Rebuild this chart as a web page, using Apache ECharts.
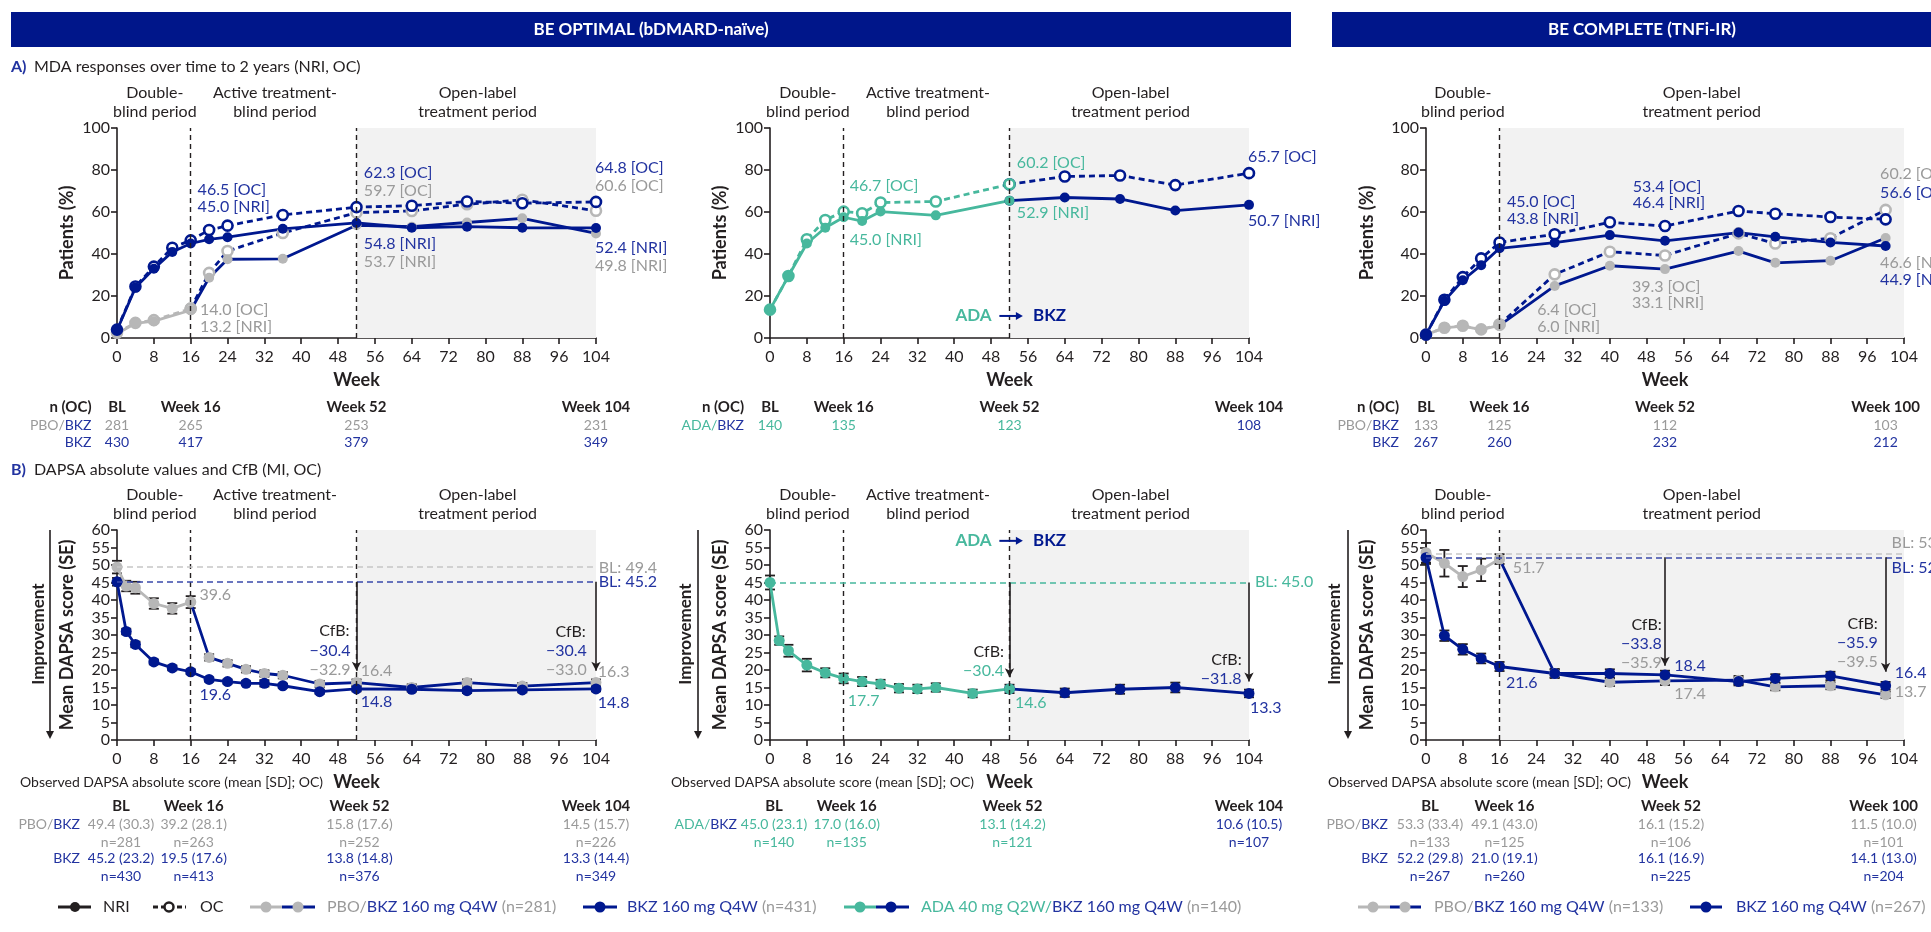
<!DOCTYPE html>
<html><head><meta charset="utf-8">
<script src="https://cdn.jsdelivr.net/npm/echarts@6/dist/echarts.min.js"></script>
<style>html,body{margin:0;padding:0;background:#fff}#c{width:1931px;height:932px}</style>
</head><body><div id="c"></div>
<script>
// ---------------- DATA ----------------
// A1: BE OPTIMAL MDA response (%)
const a1BkzWeeks = [0,4,8,12,16,20,24,36,52,64,76,88,104];
const a1BkzNri   = [3.7,24,33,41,45,47,48,52,54.8,52.5,53,52.5,52.4];
const a1BkzOc    = [4,24.5,34,43,46.5,51.4,53.5,58.6,62.3,63,65,64.2,64.8];
const a1PboWeeks = [0,4,8,16,20,24,36,52,64,76,88,104];
const a1PboNri   = [2,7,8,13.2,28.7,37.5,37.7,53.7,53,55,57,49.8];
const a1PboOc    = [2.5,7.2,8.5,14,31,41.4,50,59.7,60.5,63.7,65.8,60.6];
// A2: BE OPTIMAL ADA->BKZ MDA (%)
const a2Weeks = [0,4,8,12,16,20,24,36,52,64,76,88,104];
const a2Nri   = [13.5,29.5,45,52.5,57.5,55.7,60.2,58.4,65.4,66.9,66.2,60.7,63.4];
const a2Oc    = [13.5,29.5,47,56.2,60.2,59.4,64.5,65,73.2,76.9,77.4,72.8,78.5];
// A3: BE COMPLETE MDA (%)
const a3Weeks  = [0,4,8,12,16,28,40,52,68,76,88,100];
const a3BkzNri = [1.6,17.7,27.5,34.7,42.7,45.4,49,46.3,50.2,48.2,45.5,43.8];
const a3BkzOc  = [1.6,18.2,29,37.9,45.5,49.4,55.1,53.3,60.5,59.2,57.6,56.5];
const a3PboNri = [1.6,4.8,5.7,4,6,24.8,34.4,32.8,41.4,35.8,36.8,47.6];
const a3PboOc  = [1.6,4.9,5.8,4.1,6.4,30.3,41.1,39.3,49.8,45,47.5,61];
// B1: BE OPTIMAL DAPSA
const b1Weeks = [0,2,4,8,12,16,20,24,28,32,36,44,52,64,76,88,104];
const b1Bkz   = [45.2,31,27.3,22.3,20.6,19.5,17.3,16.7,16.2,16.2,15.5,13.8,14.6,14.5,14.1,14.3,14.6];
const b1BkzSe = [1.1,0.8,0.8,0.7,0.7,0.7,0.6,0.6,0.6,0.9,0.6,0.6,0.7,0.7,0.7,0.7,0.7];
const b1Pbo   = [49.4,44,43.5,39,37.6,39.4,23.6,21.9,20.2,19,18.5,16,16.4,15,16.4,15.4,16.4];
const b1PboSe = [1.8,1.5,1.7,1.5,1.5,1.7,0.9,0.9,0.9,0.9,0.9,0.9,0.9,0.9,0.9,0.9,0.9];
const b1Baseline = [49.4,45.2];
// B2: BE OPTIMAL ADA->BKZ DAPSA
const b2Weeks = [0,2,4,8,12,16,20,24,28,32,36,44,52,64,76,88,104];
const b2Ada   = [45,28.4,25.5,21.4,19.2,17.6,16.7,16,14.8,14.6,15,13.3,14.6,13.5,14.5,15,13.3];
const b2AdaSe = [2,1.2,1.7,1.8,1.3,1.4,1.3,1.2,1.2,1.2,1.2,1.1,1.2,1.2,1.3,1.4,1.1];
const b2Baseline = [45.0];
// B3: BE COMPLETE DAPSA
const b3Weeks = [0,4,8,12,16,28,40,52,68,76,88,100];
const b3Bkz   = [52.1,29.8,25.9,23.3,21,19,19,18.6,16.7,17.6,18.3,15.5];
const b3BkzSe = [1.8,1.5,1.5,1.4,1.3,1.1,1.2,1.2,1.1,1.2,1.2,1.1];
const b3Pbo   = [53.5,50.5,46.7,48.6,51.7,19,16.5,16.9,17.1,15.2,15.5,12.9];
const b3PboSe = [2.8,3.8,3,3.2,1.4,1.3,1.1,1.2,1.2,1,1,0.9];
const b3Baseline = [53.3,52.2];
// tables
const tblWeeksA = [0,16,52,104];
const tblWeeksC = [0,16,52,100];
const colHeadA = ['BL','Week 16','Week 52','Week 104'];
const colHeadC = ['BL','Week 16','Week 52','Week 100'];
const nA1Pbo = [281,265,253,231];
const nA1Bkz = [430,417,379,349];
const nA2Ada = [140,135,123,108];
const nA3Pbo = [133,125,112,103];
const nA3Bkz = [267,260,232,212];
const obsB1Pbo = ['49.4 (30.3)','39.2 (28.1)','15.8 (17.6)','14.5 (15.7)'];
const obsB1PboN = [281,263,252,226];
const obsB1Bkz = ['45.2 (23.2)','19.5 (17.6)','13.8 (14.8)','13.3 (14.4)'];
const obsB1BkzN = [430,413,376,349];
const obsB2Ada = ['45.0 (23.1)','17.0 (16.0)','13.1 (14.2)','10.6 (10.5)'];
const obsB2AdaN = [140,135,121,107];
const obsB3Pbo = ['53.3 (33.4)','49.1 (43.0)','16.1 (15.2)','11.5 (10.0)'];
const obsB3PboN = [133,125,106,101];
const obsB3Bkz = ['52.2 (29.8)','21.0 (19.1)','16.1 (16.9)','14.1 (13.0)'];
const obsB3BkzN = [267,260,225,204];
// callout texts
const callA1 = ['46.5 [OC]','45.0 [NRI]','14.0 [OC]','13.2 [NRI]','62.3 [OC]','59.7 [OC]','54.8 [NRI]','53.7 [NRI]','64.8 [OC]','60.6 [OC]','52.4 [NRI]','49.8 [NRI]'];
const callA2 = ['46.7 [OC]','45.0 [NRI]','60.2 [OC]','52.9 [NRI]','65.7 [OC]','50.7 [NRI]'];
const callA3 = ['45.0 [OC]','43.8 [NRI]','53.4 [OC]','46.4 [NRI]','6.4 [OC]','6.0 [NRI]','39.3 [OC]','33.1 [NRI]','60.2 [OC]','56.6 [OC]','46.6 [NRI]','44.9 [NRI]'];
const callB1 = ['BL: 49.4','BL: 45.2','39.6','19.6','CfB:','\u221230.4','\u221232.9','16.4','14.8','CfB:','\u221230.4','\u221233.0','16.3','14.8'];
const callB2 = ['BL: 45.0','CfB:','\u221230.4','17.7','14.6','CfB:','\u221231.8','13.3'];
const callB3 = ['BL: 53.3','BL: 52.2','51.7','21.6','CfB:','\u221233.8','\u221235.9','18.4','17.4','CfB:','\u221235.9','\u221239.5','16.4','13.7'];

// ---------------- STYLE / LAYOUT ----------------
const F = 'Lato, "Noto Sans", sans-serif';
const NAVY = '#00188f', BLUE_T = '#2233a0', GRAY = '#b7b7b7', GRAY_T = '#9a9a9a',
      TEAL = '#47b89d', BLACK = '#231f20', SHADE = '#f2f2f2';
const COL = {b: BLUE_T, g: GRAY_T, t: TEAL, k: BLACK};

const grids = [
  {left:117, top:128, width:479, height:210},
  {left:770, top:128, width:479, height:210},
  {left:1426, top:128, width:478, height:210},
  {left:117, top:530, width:479, height:210},
  {left:770, top:530, width:479, height:210},
  {left:1426, top:530, width:478, height:210}
];
const yNameGap = [41,41,50,41,41,50];

// callout positions (data space of each grid): [week, value, colour, align]
const posA1 = [[17.5,70.5,'b'],[17.5,62.4,'b'],[18,13.3,'g'],[18,5.2,'g'],[53.6,78.6,'b'],[53.6,70,'g'],[53.6,44.8,'b'],[53.6,36.2,'g'],[103.8,81,'b'],[103.8,72.4,'g'],[103.8,42.9,'b'],[103.8,34.3,'g']];
const posA2 = [[17.3,72.4,'t'],[17.3,46.7,'t'],[53.6,83.3,'t'],[53.6,59.5,'t'],[103.8,86.2,'b'],[103.8,55.7,'b']];
const posA3 = [[17.6,64.8,'b'],[17.6,56.7,'b'],[45,71.9,'b'],[45,64.3,'b'],[24.2,13.3,'g'],[24.2,5.2,'g'],[44.8,24.3,'g'],[44.8,16.7,'g'],[98.8,78.1,'g'],[98.8,69,'b'],[98.8,35.7,'g'],[98.8,27.6,'b']];
const posB1 = [[104.6,49.2,'g','l'],[104.6,45.1,'b','l'],[17.9,41.4,'g','l'],[17.9,12.9,'b','l'],[50.5,31.1,'k','r'],[50.7,25.4,'b','r'],[50.7,20,'g','r'],[52.9,19.7,'g','l'],[52.9,10.9,'b','l'],[101.8,30.9,'k','r'],[102,25.4,'b','r'],[102,20,'g','r'],[104.4,19.4,'g','l'],[104.4,10.6,'b','l']];
const posB2 = [[105.3,45.1,'t','l'],[50.8,25.1,'k','r'],[50.8,19.7,'t','r'],[16.9,11.1,'t','l'],[53.2,10.6,'t','l'],[102.4,22.9,'k','r'],[102.4,17.4,'b','r'],[104.2,9.1,'b','l']];
const posB3 = [[101.3,56.3,'g','l'],[101.3,49.1,'b','l'],[18.9,49.1,'g','l'],[17.4,16.3,'b','l'],[51.3,32.9,'k','r'],[51.3,27.4,'b','r'],[51.3,22,'g','r'],[54,21.1,'b','l'],[54,13.1,'g','l'],[98.3,33.1,'k','r'],[98.3,27.7,'b','r'],[98.3,22.3,'g','r'],[102,19.1,'b','l'],[102,13.7,'g','l']];

// ---------------- BUILD ----------------
const chart = echarts.init(document.getElementById('c'), null, {renderer:'canvas'});

const pts = (w, v) => w.map((x, i) => [x, v[i]]);

function lineS(g, w, v, lc, mc, dashed, hollow, size) {
  return {
    type:'line', xAxisIndex:g, yAxisIndex:g, z:3, silent:true, animation:false,
    data: pts(w, v), symbol:'circle', symbolSize: size || 10, showSymbol:true,
    lineStyle:{color:lc, width:2.8, type: dashed ? [6,4] : 'solid'},
    itemStyle: hollow ? {color:'#fff', borderColor:mc, borderWidth:2.6} : {color:mc, borderWidth:0},
    emphasis:{disabled:true}
  };
}
function splitS(g, w, v, at, lc1, mc1, lc2, mc2, dashed, hollow, size) {
  const k = w.indexOf(at);
  return [
    lineS(g, w.slice(k), v.slice(k), lc2, mc2, dashed, hollow, size),
    lineS(g, w.slice(0, k + 1), v.slice(0, k + 1), lc1, mc1, dashed, hollow, size)
  ];
}
function errS(g, w, v, se) {
  return {
    type:'custom', xAxisIndex:g, yAxisIndex:g, z:2, silent:true, animation:false,
    data: w.map((x, i) => [x, v[i], se[i]]),
    encode:{x:0, y:1},
    renderItem: function (params, api) {
      const x = api.value(0), m = api.value(1), s = api.value(2);
      const t = api.coord([x, m + s]), b = api.coord([x, m - s]);
      const hw = 5;
      const st = {stroke:BLACK, lineWidth:1.8};
      return {type:'group', children:[
        {type:'line', shape:{x1:t[0], y1:t[1], x2:b[0], y2:b[1]}, style:st},
        {type:'line', shape:{x1:t[0]-hw, y1:t[1], x2:t[0]+hw, y2:t[1]}, style:st},
        {type:'line', shape:{x1:b[0]-hw, y1:b[1], x2:b[0]+hw, y2:b[1]}, style:st}
      ]};
    }
  };
}
const vDash = w => ({xAxis:w, lineStyle:{color:BLACK, type:[5,4], width:1.4}});
const hDash = (y, c) => ({yAxis:y, lineStyle:{color:c, type:[6,4], width:1.6}});
const arrow = (w, y1, y2) => [
  {coord:[w, y1], symbol:'none', lineStyle:{color:BLACK, width:1.6, type:'solid'}},
  {coord:[w, y2], symbol:'arrow', symbolSize:[7,9], lineStyle:{color:BLACK, width:1.6, type:'solid'}}
];
function frameS(g, shadeFrom, lines) {
  return {
    type:'line', xAxisIndex:g, yAxisIndex:g, z:1, silent:true, animation:false,
    data:[[0,0]], showSymbol:false, lineStyle:{opacity:0},
    markArea:{silent:true, itemStyle:{color:SHADE}, data:[[{xAxis:shadeFrom},{xAxis:104}]]},
    markLine:{silent:true, animation:false, symbol:['none','none'], label:{show:false}, emphasis:{disabled:true}, data:lines}
  };
}

const xAxis = grids.map((_, g) => ({
  gridIndex:g, type:'value', min:0, max:104, interval:8,
  name:'Week', nameLocation:'middle', nameGap:33,
  nameTextStyle:{fontFamily:F, fontSize:18, fontWeight:'bold', color:BLACK},
  axisLine:{show:true, onZero:false, lineStyle:{color:BLACK, width:1.6}},
  axisTick:{show:true, length:6, lineStyle:{color:BLACK, width:1.6}},
  axisLabel:{fontFamily:F, fontSize:16, color:BLACK, margin:11},
  splitLine:{show:false}
}));
const yAxis = grids.map((_, g) => {
  const top = g < 3;
  return {
    gridIndex:g, type:'value', min:0, max: top ? 100 : 60, interval: top ? 20 : 5,
    name: top ? 'Patients (%)' : 'Mean DAPSA score (SE)', nameLocation:'middle', nameGap:yNameGap[g],
    nameTextStyle:{fontFamily:F, fontSize:18, fontWeight:'bold', color:BLACK},
    axisLine:{show:true, lineStyle:{color:BLACK, width:1.6}},
    axisTick:{show:true, length:6, lineStyle:{color:BLACK, width:1.6}},
    axisLabel:{fontFamily:F, fontSize:16, color:BLACK, margin:7},
    splitLine:{show:false}
  };
});

const series = [
  // A1
  frameS(0, 52, [vDash(16), vDash(52)]),
  ...splitS(0, a1PboWeeks, a1PboOc, 16, GRAY, GRAY, NAVY, GRAY, true, true),
  ...splitS(0, a1PboWeeks, a1PboNri, 16, GRAY, GRAY, NAVY, GRAY, false, false),
  lineS(0, a1BkzWeeks, a1BkzOc, NAVY, NAVY, true, true),
  lineS(0, a1BkzWeeks, a1BkzNri, NAVY, NAVY, false, false),
  // A2
  frameS(1, 52, [vDash(16), vDash(52)]),
  ...splitS(1, a2Weeks, a2Oc, 52, TEAL, TEAL, NAVY, NAVY, true, true),
  ...splitS(1, a2Weeks, a2Nri, 52, TEAL, TEAL, NAVY, NAVY, false, false),
  // A3
  frameS(2, 16, [vDash(16)]),
  ...splitS(2, a3Weeks, a3PboOc, 16, GRAY, GRAY, NAVY, GRAY, true, true),
  ...splitS(2, a3Weeks, a3PboNri, 16, GRAY, GRAY, NAVY, GRAY, false, false),
  lineS(2, a3Weeks, a3BkzOc, NAVY, NAVY, true, true),
  lineS(2, a3Weeks, a3BkzNri, NAVY, NAVY, false, false),
  // B1
  frameS(3, 52, [vDash(16), vDash(52), hDash(b1Baseline[0], '#c6c6c6'), hDash(b1Baseline[1], '#3a4aab'),
    arrow(52, b1Baseline[1], 19.8), arrow(104, b1Baseline[1], 19.8)]),
  errS(3, b1Weeks, b1Pbo, b1PboSe),
  errS(3, b1Weeks, b1Bkz, b1BkzSe),
  ...splitS(3, b1Weeks, b1Pbo, 16, GRAY, GRAY, NAVY, GRAY, false, false, 11),
  lineS(3, b1Weeks, b1Bkz, NAVY, NAVY, false, false, 11),
  // B2
  frameS(4, 52, [vDash(16), vDash(52), hDash(b2Baseline[0], TEAL),
    arrow(52, b2Baseline[0], 17.9), arrow(104, b2Baseline[0], 16.7)]),
  errS(4, b2Weeks, b2Ada, b2AdaSe),
  ...splitS(4, b2Weeks, b2Ada, 52, TEAL, TEAL, NAVY, NAVY, false, false, 11),
  // B3
  frameS(5, 16, [vDash(16), hDash(b3Baseline[0], '#c6c6c6'), hDash(b3Baseline[1], '#3a4aab'),
    arrow(52, b3Baseline[1], 21.2), arrow(100, b3Baseline[1], 19.5)]),
  errS(5, b3Weeks, b3Pbo, b3PboSe),
  errS(5, b3Weeks, b3Bkz, b3BkzSe),
  ...splitS(5, b3Weeks, b3Pbo, 16, GRAY, GRAY, NAVY, GRAY, false, false, 11),
  lineS(5, b3Weeks, b3Bkz, NAVY, NAVY, false, false, 11)
];

chart.setOption({
  animation:false,
  backgroundColor:'#fff',
  textStyle:{fontFamily:F},
  grid: grids.map(g => Object.assign({containLabel:false, outerBoundsMode:'none'}, g)),
  xAxis, yAxis, series
});

// ---------------- GRAPHIC ANNOTATIONS ----------------
const G = [];
const P = (g, x, y) => chart.convertToPixel({gridIndex:g}, [x, y]);
function txt(x, y, text, o) {
  G.push({type:'text', x:x, y:y, silent:true, z:10,
    style:Object.assign({text:text, fontFamily:F, fontSize:16, fill:BLACK, align:'left', verticalAlign:'middle'}, o || {})});
}
function rt(size, weight) {
  const mk = c => ({fill:c, fontSize:size, fontFamily:F, fontWeight:weight || 'normal'});
  return {g:mk(GRAY_T), b:mk(BLUE_T), t:mk(TEAL), k:mk(BLACK)};
}
function ln(x1, y1, x2, y2, c, w, dash) {
  G.push({type:'line', silent:true, z:10, shape:{x1, y1, x2, y2}, style:{stroke:c, lineWidth:w, lineDash:dash || null}});
}
function dot(cx, cy, r, fill, stroke) {
  G.push({type:'circle', silent:true, z:11, shape:{cx, cy, r}, style:{fill:fill, stroke:stroke || null, lineWidth:stroke ? 2.5 : 0}});
}

// header bars
G.push({type:'rect', silent:true, shape:{x:11, y:12, width:1280, height:35}, style:{fill:'#00168a'}});
G.push({type:'rect', silent:true, shape:{x:1332, y:12, width:620, height:35}, style:{fill:'#00168a'}});
txt(651, 30, 'BE OPTIMAL (bDMARD-na\u00efve)', {align:'center', fill:'#fff', fontWeight:'bold', fontSize:17});
txt(1642, 30, 'BE COMPLETE (TNFi-IR)', {align:'center', fill:'#fff', fontWeight:'bold', fontSize:17});

// section titles
txt(11, 67, 'A)', {fill:BLUE_T, fontWeight:'bold', fontSize:16});
txt(34, 67, 'MDA responses over time to 2 years (NRI, OC)', {fontSize:16});
txt(11, 470, 'B)', {fill:BLUE_T, fontWeight:'bold', fontSize:16});
txt(34, 470, 'DAPSA absolute values and CfB (MI, OC)', {fontSize:16});

// period labels
const periodsAB = [[8.2,'Double-\nblind period'],[34.3,'Active treatment-\nblind period'],[78.3,'Open-label\ntreatment period']];
const periodsC = [[8.0,'Double-\nblind period'],[60,'Open-label\ntreatment period']];
[0,1,2,3,4,5].forEach(g => {
  const list = (g % 3 === 2) ? periodsC : periodsAB;
  const yMid = g < 3 ? 102.5 : 504;
  list.forEach(p => txt(P(g, p[0], 0)[0], yMid, p[1], {align:'center', lineHeight:19, fontSize:16}));
});

// callouts
function callouts(g, texts, pos) {
  texts.forEach((t, i) => {
    const p = pos[i], xy = P(g, p[0], p[1]);
    txt(xy[0], xy[1], t, {fill:COL[p[2]], align: p[3] === 'r' ? 'right' : 'left', fontSize:16});
  });
}
callouts(0, callA1, posA1); callouts(1, callA2, posA2); callouts(2, callA3, posA3);
callouts(3, callB1, posB1); callouts(4, callB2, posB2); callouts(5, callB3, posB3);

// ADA -> BKZ markers
[[1, 10.5], [4, 56.9]].forEach(a => {
  const g = a[0], y = P(g, 0, a[1])[1];
  txt(P(g, 48.1, 0)[0], y, 'ADA', {align:'right', fill:TEAL, fontWeight:'bold', fontSize:17});
  const x1 = P(g, 49.8, 0)[0], x2 = P(g, 54.9, 0)[0];
  ln(x1, y, x2 - 4, y, NAVY, 2);
  G.push({type:'polygon', silent:true, z:10, shape:{points:[[x2, y], [x2 - 7, y - 4], [x2 - 7, y + 4]]}, style:{fill:NAVY}});
  txt(P(g, 57.1, 0)[0], y, 'BKZ', {align:'left', fill:NAVY, fontWeight:'bold', fontSize:17});
});

// Improvement arrows
[[50, 39], [698, 686], [1348, 1335]].forEach(a => {
  ln(a[0], 530, a[0], 732, BLACK, 1.6);
  G.push({type:'polygon', silent:true, z:10, shape:{points:[[a[0], 739], [a[0] - 4, 731], [a[0] + 4, 731]]}, style:{fill:BLACK}});
  G.push({type:'text', x:a[1], y:634, rotation:Math.PI / 2, silent:true, z:10,
    style:{text:'Improvement', fontFamily:F, fontSize:17, fontWeight:'bold', fill:BLACK, align:'center', verticalAlign:'middle'}});
});

// n (OC) tables (top)
const FH = 15, FV = 14;
function colX(g, weeks, off) { return weeks.map((w, i) => P(g, w, 0)[0] + (off ? off[i] : 0)); }
function row(xs, y, vals, colors, bold) {
  vals.forEach((v, i) => txt(xs[i], y, String(v), {align:'center', fill: Array.isArray(colors) ? colors[i] : colors, fontSize: bold ? FH : FV, fontWeight: bold ? 'bold' : 'normal'}));
}
// A1
let xs = colX(0, tblWeeksA);
txt(91.5, 407, 'n (OC)', {align:'right', fontWeight:'bold', fontSize:FH});
row(xs, 407, colHeadA, BLACK, true);
txt(91.5, 425, '{g|PBO/}{b|BKZ}', {align:'right', rich:rt(FV)});
row(xs, 425, nA1Pbo, GRAY_T);
txt(91.5, 442, 'BKZ', {align:'right', fill:BLUE_T, fontSize:FV});
row(xs, 442, nA1Bkz, BLUE_T);
// A2
xs = colX(1, tblWeeksA);
txt(744, 407, 'n (OC)', {align:'right', fontWeight:'bold', fontSize:FH});
row(xs, 407, colHeadA, BLACK, true);
txt(744, 425, '{t|ADA/}{b|BKZ}', {align:'right', rich:rt(FV)});
row(xs, 425, nA2Ada, [TEAL, TEAL, TEAL, BLUE_T]);
// A3
xs = colX(2, tblWeeksC);
txt(1399, 407, 'n (OC)', {align:'right', fontWeight:'bold', fontSize:FH});
row(xs, 407, colHeadC, BLACK, true);
txt(1399, 425, '{g|PBO/}{b|BKZ}', {align:'right', rich:rt(FV)});
row(xs, 425, nA3Pbo, GRAY_T);
txt(1399, 442, 'BKZ', {align:'right', fill:BLUE_T, fontSize:FV});
row(xs, 442, nA3Bkz, BLUE_T);

// Observed DAPSA tables (bottom)
const offB = [4, 3, 3, 0];
const obsTitle = 'Observed DAPSA absolute score (mean [SD]; OC)';
txt(20, 782, obsTitle, {fontSize:14});
txt(671, 782, obsTitle, {fontSize:14});
txt(1328, 782, obsTitle, {fontSize:14});
// B1
xs = colX(3, tblWeeksA, offB);
row(xs, 806, colHeadA, BLACK, true);
txt(80, 824, '{g|PBO/}{b|BKZ}', {align:'right', rich:rt(FV)});
row(xs, 824, obsB1Pbo, GRAY_T);
row(xs, 842, obsB1PboN.map(n => 'n=' + n), GRAY_T);
txt(80, 858, 'BKZ', {align:'right', fill:BLUE_T, fontSize:FV});
row(xs, 858, obsB1Bkz, BLUE_T);
row(xs, 876, obsB1BkzN.map(n => 'n=' + n), BLUE_T);
// B2
xs = colX(4, tblWeeksA, offB);
row(xs, 806, colHeadA, BLACK, true);
txt(737, 824, '{t|ADA/}{b|BKZ}', {align:'right', rich:rt(FV)});
row(xs, 824, obsB2Ada, [TEAL, TEAL, TEAL, BLUE_T]);
row(xs, 842, obsB2AdaN.map(n => 'n=' + n), [TEAL, TEAL, TEAL, BLUE_T]);
// B3
xs = colX(5, tblWeeksC, [4, 5, 6, -2]);
row(xs, 806, colHeadC, BLACK, true);
txt(1388, 824, '{g|PBO/}{b|BKZ}', {align:'right', rich:rt(FV)});
row(xs, 824, obsB3Pbo, GRAY_T);
row(xs, 842, obsB3PboN.map(n => 'n=' + n), GRAY_T);
txt(1388, 858, 'BKZ', {align:'right', fill:BLUE_T, fontSize:FV});
row(xs, 858, obsB3Bkz, BLUE_T);
row(xs, 876, obsB3BkzN.map(n => 'n=' + n), BLUE_T);

// Legend
const LY = 907, LF = 16;
ln(58, LY, 91, LY, BLACK, 3); dot(75, LY, 5, BLACK);
txt(103, LY, 'NRI', {fontSize:LF});
ln(153, LY, 186, LY, BLACK, 3, [5, 3]); dot(169, LY, 4.5, '#fff', BLACK);
txt(200, LY, 'OC', {fontSize:LF});
ln(250, LY, 282, LY, GRAY, 3); ln(282, LY, 315, LY, NAVY, 3); dot(266, LY, 5.5, GRAY); dot(298, LY, 5.5, GRAY);
txt(327, LY, '{g|PBO/}{b|BKZ 160 mg Q4W}{g| (n=281)}', {rich:rt(LF)});
ln(583, LY, 617, LY, NAVY, 3); dot(600, LY, 5.5, NAVY);
txt(627, LY, '{b|BKZ 160 mg Q4W}{g| (n=431)}', {rich:rt(LF)});
ln(844, LY, 876, LY, TEAL, 3); ln(876, LY, 909, LY, NAVY, 3); dot(860, LY, 5.5, TEAL); dot(891, LY, 5.5, NAVY);
txt(921, LY, '{t|ADA 40 mg Q2W/}{b|BKZ 160 mg Q4W}{g| (n=140)}', {rich:rt(LF)});
ln(1358, LY, 1390, LY, GRAY, 3); ln(1390, LY, 1421, LY, NAVY, 3); dot(1373, LY, 5.5, GRAY); dot(1405, LY, 5.5, GRAY);
txt(1434, LY, '{g|PBO/}{b|BKZ 160 mg Q4W}{g| (n=133)}', {rich:rt(LF)});
ln(1690, LY, 1722, LY, NAVY, 3); dot(1706, LY, 5.5, NAVY);
txt(1736, LY, '{b|BKZ 160 mg Q4W}{g| (n=267)}', {rich:rt(LF)});

chart.setOption({graphic:{elements:G}});
</script></body></html>
